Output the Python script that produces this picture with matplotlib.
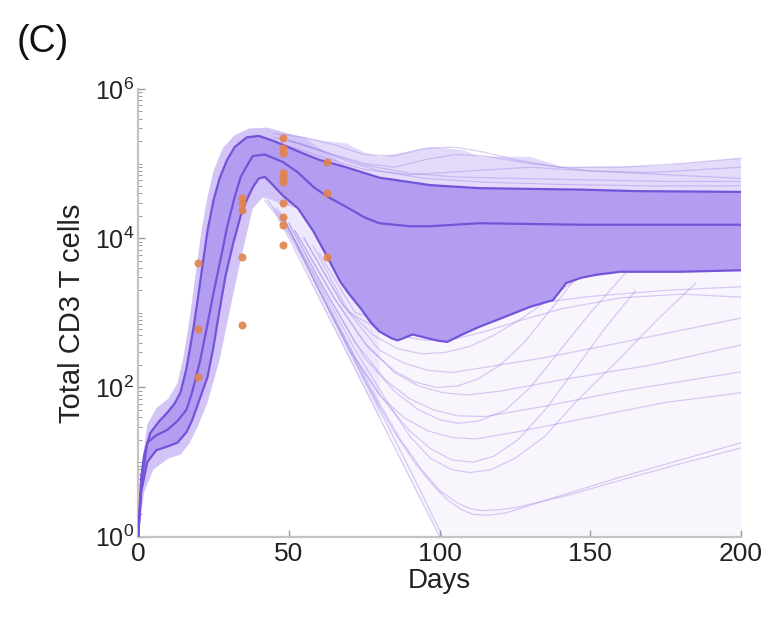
import numpy as np
import matplotlib.pyplot as plt
from matplotlib.ticker import LogLocator, NullFormatter, FixedLocator

plt.rcParams['font.family'] = ['Liberation Sans', 'DejaVu Sans']
plt.rcParams['mathtext.fontset'] = 'custom'
plt.rcParams['mathtext.rm'] = 'Liberation Sans'

# ---- data (log10 of total CD3 T cells) ----
upper_days = [0, 1, 2, 4, 7, 9.6, 12, 14, 16, 18.4, 20, 21.6, 23, 25, 27, 29.5, 32, 36, 40, 45,
              48, 55, 60, 69, 80, 97, 113, 147, 165, 200]
upper_log = [0, 0.8, 1.1, 1.39, 1.55, 1.66, 1.78, 1.93, 2.25, 2.81, 3.25, 3.71, 4.1, 4.51, 4.8,
             5.05, 5.22, 5.35, 5.37, 5.3, 5.25, 5.13, 5.05, 4.95, 4.81, 4.71, 4.67, 4.65, 4.63, 4.62]

median_days = [0, 1, 3, 6, 9.6, 13, 16, 18, 20.6, 23, 25, 27.5, 29.5, 32, 34, 36.5, 38, 42, 48,
               53, 58, 63, 69, 75, 80, 90, 97, 113, 147, 200]
median_log = [0, 0.7, 1.26, 1.36, 1.43, 1.55, 1.7, 1.95, 2.37, 2.85, 3.27, 3.75, 4.15, 4.55, 4.82,
              5.0, 5.1, 5.12, 5.02, 4.88, 4.69, 4.55, 4.42, 4.28, 4.2, 4.16, 4.16, 4.2, 4.18, 4.18]

lower_days = [0, 1, 3, 6, 9, 13, 16, 18, 20, 23, 25, 27, 29, 31.5, 34, 36, 38, 40, 42, 44, 48,
              53, 58, 62.7, 67, 70, 74, 77, 80, 84, 86, 88, 91, 95, 99, 102.5, 107, 113, 120, 130,
              137.6, 142, 147, 152, 160, 180, 200]
lower_log = [0, 0.6, 1.0, 1.16, 1.2, 1.26, 1.4, 1.57, 1.8, 2.14, 2.55, 3.04, 3.5, 3.93, 4.3, 4.51,
             4.68, 4.8, 4.82, 4.74, 4.57, 4.4, 4.1, 3.75, 3.42, 3.25, 3.05, 2.88, 2.75, 2.66, 2.63,
             2.66, 2.71, 2.67, 2.63, 2.61, 2.7, 2.81, 2.92, 3.08, 3.17, 3.4, 3.47, 3.51, 3.55, 3.55,
             3.57]

# envelope of all simulated trajectories
outer_hi_days = [0, 1, 3, 6, 10, 13, 15, 17, 19, 21, 23, 25, 28, 32, 37, 43, 48, 55, 62, 69, 75,
                 80, 88, 97, 108, 113, 130, 141, 173, 200]
outer_hi_log = [0, 0.9, 1.5, 1.72, 1.85, 2.05, 2.4, 2.9, 3.5, 4.1, 4.55, 4.9, 5.2, 5.38, 5.47,
                5.48, 5.42, 5.35, 5.3, 5.27, 5.15, 5.09, 5.15, 5.22, 5.18, 5.09, 5.09, 4.95, 4.97,
                5.07]
dense_lo_days = [0, 2, 5, 10, 14, 17, 20, 23, 27, 31, 34, 38, 41.5, 45, 48]
dense_lo_log = [0, 0.6, 0.9, 1.05, 1.1, 1.25, 1.5, 1.8, 2.37, 3.15, 3.71, 4.4, 4.55, 4.5, 4.45]
outer_lo_days = [0, 2, 5, 10, 14, 17, 20, 23, 27, 31, 34, 38, 41.5, 46, 51, 60, 70, 80, 90, 100, 200]
outer_lo_log = [0, 0.6, 0.9, 1.05, 1.1, 1.25, 1.5, 1.8, 2.37, 3.15, 3.71, 4.4, 4.55, 4.3, 3.95,
                3.2, 2.4, 1.6, 0.8, 0, 0]

# individual trajectories visible outside the bands
traj_days = [
    [42, 46, 50, 60, 70, 80, 90, 100, 105],
    [43, 47, 52, 62, 72, 82, 92, 101, 106],
    [45, 55, 65, 75, 85, 92, 98, 103, 107, 111, 116, 122, 140, 160, 180, 200],
    [46, 57, 67, 77, 87, 94, 100, 106, 110, 114, 119, 125, 142, 162, 181, 200],
    [48, 60, 70, 80, 88, 96, 104, 112, 125, 150, 175, 200],
    [50, 62, 72, 82, 90, 98, 106, 115, 135, 160, 200],
    [52, 65, 75, 85, 93, 101, 109, 120, 140, 170, 200],
    [55, 68, 80, 88, 96, 104, 115, 135, 160, 200],
    [47, 60, 72, 82, 90, 97, 104, 110, 117, 125, 135, 145, 160, 172, 185],
    [48, 60, 72, 82, 90, 97, 104, 111, 118, 126, 135, 145, 155, 165],
    [50, 62, 75, 85, 93, 100, 106, 113, 122, 130, 140, 150, 162],
    [52, 65, 76, 85, 92, 99, 106, 113, 120, 128, 136, 145],
    [55, 68, 78, 86, 94, 102, 110, 118, 127, 137, 147, 155],
    [58, 70, 80, 88, 96, 105, 115, 127, 140, 160, 180, 200],
    [60, 72, 82, 92, 102, 115, 130, 150, 175, 200],
    [45, 55, 65, 75, 85, 95, 105, 115, 125, 140, 160, 180, 200],
    [45, 55, 65, 75, 85, 95, 105, 115, 130, 150, 170, 200],
    [45, 60, 75, 90, 110, 130, 150, 175, 200],
    [50, 60, 70, 80, 95, 115, 140, 170, 200],
    [50, 62, 75, 90, 105, 125, 150, 175, 200],
]
traj_log = [
    [4.5, 4.3, 4.0, 3.2, 2.4, 1.6, 0.8, 0.0, -0.4],
    [4.5, 4.3, 3.95, 3.15, 2.35, 1.55, 0.75, 0.0, -0.4],
    [4.4, 3.7, 2.9, 2.1, 1.4, 0.98, 0.68, 0.48, 0.37, 0.3, 0.29, 0.32, 0.55, 0.8, 1.03, 1.26],
    [4.4, 3.6, 2.8, 2.0, 1.3, 0.9, 0.62, 0.45, 0.38, 0.35, 0.36, 0.39, 0.55, 0.78, 0.99, 1.19],
    [4.3, 3.3, 2.5, 1.9, 1.6, 1.42, 1.33, 1.31, 1.4, 1.6, 1.8, 1.93],
    [4.2, 3.3, 2.6, 2.1, 1.85, 1.7, 1.62, 1.61, 1.75, 1.95, 2.21],
    [4.1, 3.2, 2.6, 2.2, 2.02, 1.93, 1.9, 1.95, 2.1, 2.3, 2.57],
    [4.0, 3.1, 2.5, 2.33, 2.23, 2.2, 2.27, 2.4, 2.6, 2.93],
    [4.35, 3.4, 2.5, 1.85, 1.35, 1.05, 0.9, 0.86, 0.9, 1.05, 1.35, 1.8, 2.4, 2.9, 3.4],
    [4.3, 3.3, 2.4, 1.8, 1.42, 1.18, 1.03, 1.0, 1.08, 1.3, 1.7, 2.25, 2.8, 3.3],
    [4.2, 3.3, 2.4, 1.95, 1.7, 1.57, 1.52, 1.55, 1.7, 2.0, 2.5, 3.0, 3.55],
    [4.1, 3.2, 2.55, 2.22, 2.07, 2.0, 2.02, 2.12, 2.3, 2.6, 3.0, 3.45],
    [4.0, 3.1, 2.7, 2.52, 2.45, 2.47, 2.55, 2.7, 2.92, 3.2, 3.5, 3.65],
    [3.9, 3.0, 2.78, 2.68, 2.63, 2.65, 2.75, 2.9, 3.05, 3.2, 3.25, 3.21],
    [3.8, 3.0, 2.88, 2.87, 2.93, 3.02, 3.12, 3.22, 3.3, 3.35],
    [5.4, 5.35, 5.25, 5.12, 5.1, 5.2, 5.22, 5.15, 5.05, 4.95, 4.95, 5.0, 5.07],
    [5.35, 5.25, 5.12, 5.0, 4.95, 5.05, 5.12, 5.1, 5.0, 4.9, 4.88, 4.95],
    [5.3, 5.1, 4.92, 4.85, 4.9, 4.95, 4.9, 4.85, 4.8],
    [5.32, 5.18, 5.02, 4.9, 4.8, 4.75, 4.72, 4.7, 4.7],
    [5.3, 5.15, 4.98, 4.87, 4.82, 4.8, 4.78, 4.76, 4.76],
]

# measured data points
obs_days = [20, 20, 20, 34.5, 34.5, 34.5, 34.5, 34.5,
            48, 48, 48, 48, 48, 48, 48, 48, 48, 48, 62.7, 62.7, 62.7]
obs_cells = [4700, 600, 140, 35000, 30000, 24000, 5600, 690,
             2.2e5, 1.6e5, 1.4e5, 7.4e4, 6.5e4, 5.6e4, 3.0e4, 1.9e4, 1.5e4, 8.1e3,
             1.05e5, 4.0e4, 5.6e3]


def pw(v):
    return 10.0 ** np.asarray(v, dtype=float)


def pick(days, vals, dmin=-1, dmax=1e9):
    d = np.asarray(days, dtype=float)
    m = (d >= dmin) & (d <= dmax)
    return d[m], np.asarray(vals, dtype=float)[m]


fig = plt.figure(figsize=(7.72, 6.17), dpi=100)
ax = fig.add_axes([0.179, 0.130, 0.781, 0.726])

# very light envelope of all runs
ax.fill(np.r_[outer_hi_days, outer_lo_days[::-1]],
        pw(np.r_[outer_hi_log, outer_lo_log[::-1]]),
        color='#f9f5fd', lw=0, zorder=1)

# fan of decaying runs below the lower bound
od, ov = pick(outer_lo_days, outer_lo_log, 41.5, 80)
ld, lv = pick(lower_days, lower_log, 42, 80)
ax.fill(np.r_[od, ld[::-1]], pw(np.r_[ov, lv[::-1]]), color='#eee8fc', lw=0, zorder=1.5)

# lighter zone above the upper bound, later days
hd, hv = pick(outer_hi_days, outer_hi_log, 55)
ud, uv = pick(upper_days, upper_log, 55)
ax.fill(np.r_[hd, ud[::-1]], pw(np.r_[hv, uv[::-1]]), color='#e4dafa', lw=0, zorder=2)

# denser light band on the rise and around the peak
hd, hv = pick(outer_hi_days, outer_hi_log, dmax=55)
ax.fill(np.r_[hd, 70, 53, dense_lo_days[::-1]],
        pw(np.r_[hv, 4.94, 4.4, dense_lo_log[::-1]]),
        color='#d3c4f7', lw=0, zorder=2)

for d, v in zip(traj_days, traj_log):
    ax.plot(d, pw(v), color='#9f86e6', alpha=0.4, lw=0.9, zorder=3)

# central band
ax.fill(np.r_[upper_days, lower_days[::-1]], pw(np.r_[upper_log, lower_log[::-1]]),
        color='#b39df1', lw=0, zorder=4)

for d, v in [(upper_days, upper_log), (median_days, median_log), (lower_days, lower_log)]:
    ax.plot(d, pw(v), color='#7453d9', lw=1.6, zorder=5)

ax.plot(obs_days, obs_cells, 'o', color='#e3834b', ms=5.8, mec='none', alpha=0.9, zorder=6)

ax.set_yscale('log')
ax.set_xlim(0, 200)
ax.set_ylim(1, 1e6)
ax.set_xticks([0, 50, 100, 150, 200])
ax.yaxis.set_major_locator(FixedLocator([1, 1e2, 1e4, 1e6]))
ax.set_yticklabels([r'$\mathregular{10^{0}}$', r'$\mathregular{10^{2}}$',
                    r'$\mathregular{10^{4}}$', r'$\mathregular{10^{6}}$'])
ax.yaxis.set_minor_locator(LogLocator(base=10, subs=np.arange(1, 10), numticks=100))
ax.yaxis.set_minor_formatter(NullFormatter())

for s in ['top', 'right']:
    ax.spines[s].set_visible(False)
for s in ['left', 'bottom']:
    ax.spines[s].set_color('#c4c4c4')
    ax.spines[s].set_linewidth(1.6)
ax.tick_params(axis='both', which='major', direction='in', length=5, width=1,
               color='#9a9a9a', labelcolor='#222222')
ax.tick_params(axis='x', which='major', labelsize=19, pad=4)
ax.tick_params(axis='y', which='major', labelsize=18, pad=3)
ax.tick_params(axis='y', which='minor', direction='in', length=3, width=0.7, color='#9a9a9a')

ax.set_xlabel('Days', fontsize=20, color='#222222', labelpad=1)
ax.set_ylabel('Total CD3 T cells', fontsize=21, color='#222222', labelpad=6)
fig.text(0.022, 0.915, '(C)', fontsize=27, color='#111111')

fig.savefig('out.png', dpi=100)
